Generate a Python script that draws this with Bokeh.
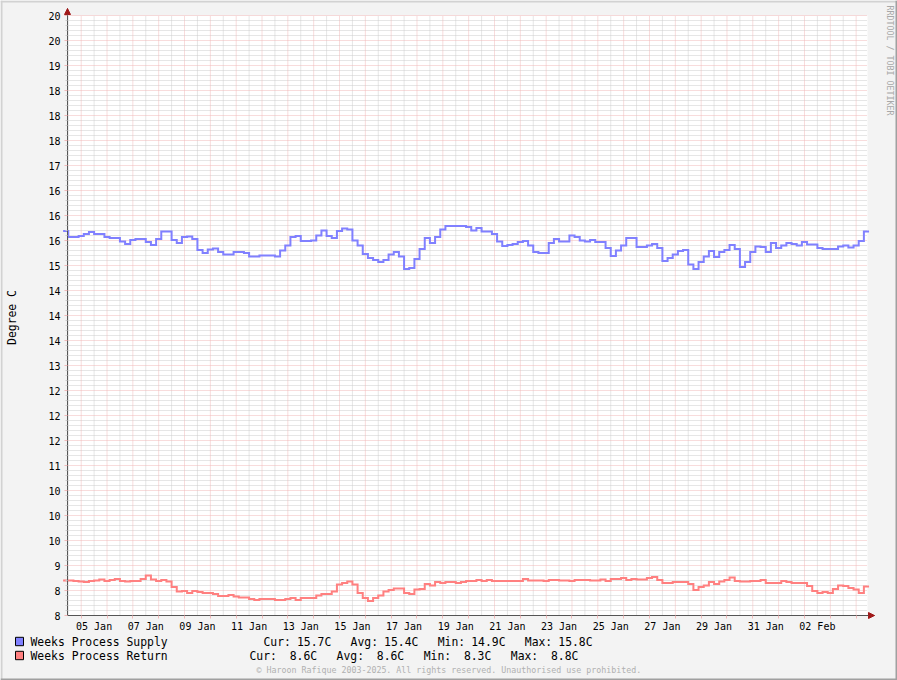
import re
import numpy as np
from bokeh.plotting import figure
from bokeh.models import FixedTicker, Label, Arrow, NormalHead, Range1d, BoxAnnotation
from bokeh.embed import file_html
from bokeh.resources import INLINE

# ---------------- data ----------------
# sample times are expressed as "day of January 2025" (02 Feb = day 33)
first_sample_day = 3.8       # first (partially visible) consolidated sample
sample_step_days = 0.2       # one consolidated sample every 4.8 hours
view_start_day = 3.97
view_end_day = 34.94
y_min, y_max = 8.0, 20.0

supply_name = "Weeks Process Supply"
supply = [
    15.69,
    15.57, 15.57, 15.59, 15.63, 15.67,   # 04 Jan
    15.63, 15.63, 15.57, 15.55, 15.55,   # 05 Jan
    15.48, 15.43, 15.51, 15.53, 15.53,   # 06 Jan
    15.47, 15.41, 15.53, 15.68, 15.68,   # 07 Jan
    15.51, 15.45, 15.57, 15.58, 15.53,   # 08 Jan
    15.31, 15.25, 15.32, 15.34, 15.27,   # 09 Jan
    15.22, 15.22, 15.27, 15.27, 15.25,   # 10 Jan
    15.18, 15.18, 15.20, 15.20, 15.20,   # 11 Jan
    15.18, 15.30, 15.40, 15.57, 15.59,   # 12 Jan
    15.49, 15.49, 15.50, 15.60, 15.70,   # 13 Jan
    15.59, 15.55, 15.69, 15.74, 15.72,   # 14 Jan
    15.50, 15.40, 15.23, 15.15, 15.11,   # 15 Jan
    15.07, 15.11, 15.22, 15.27, 15.18,   # 16 Jan
    14.93, 14.95, 15.13, 15.33, 15.55,   # 17 Jan
    15.45, 15.57, 15.72, 15.79, 15.79,   # 18 Jan
    15.79, 15.79, 15.77, 15.70, 15.75,   # 19 Jan
    15.68, 15.68, 15.63, 15.48, 15.39,   # 20 Jan
    15.41, 15.43, 15.47, 15.49, 15.40,   # 21 Jan
    15.27, 15.25, 15.25, 15.45, 15.53,   # 22 Jan
    15.48, 15.48, 15.60, 15.57, 15.50,   # 23 Jan
    15.48, 15.51, 15.47, 15.47, 15.35,   # 24 Jan
    15.19, 15.30, 15.40, 15.55, 15.55,   # 25 Jan
    15.37, 15.37, 15.40, 15.43, 15.35,   # 26 Jan
    15.09, 15.15, 15.22, 15.29, 15.31,   # 27 Jan
    15.02, 14.93, 15.07, 15.18, 15.29,   # 28 Jan
    15.17, 15.27, 15.31, 15.41, 15.33,   # 29 Jan
    14.97, 15.07, 15.27, 15.38, 15.37,   # 30 Jan
    15.27, 15.45, 15.35, 15.40, 15.45,   # 31 Jan
    15.43, 15.40, 15.47, 15.42, 15.42,   # 01 Feb
    15.35, 15.33, 15.33, 15.33, 15.38,   # 02 Feb
    15.40, 15.36, 15.40, 15.49, 15.68,   # 03 Feb
]

return_name = "Weeks Process Return"
ret = [
    8.70,
    8.70, 8.69, 8.68, 8.67, 8.69,   # 04 Jan
    8.70, 8.72, 8.69, 8.71, 8.73,   # 05 Jan
    8.69, 8.68, 8.69, 8.69, 8.73,   # 06 Jan
    8.80, 8.72, 8.69, 8.71, 8.68,   # 07 Jan
    8.57, 8.48, 8.49, 8.45, 8.49,   # 08 Jan
    8.47, 8.45, 8.45, 8.43, 8.39,   # 09 Jan
    8.39, 8.41, 8.38, 8.36, 8.36,   # 10 Jan
    8.33, 8.31, 8.33, 8.33, 8.33,   # 11 Jan
    8.31, 8.31, 8.33, 8.35, 8.31,   # 12 Jan
    8.35, 8.35, 8.35, 8.40, 8.43,   # 13 Jan
    8.43, 8.48, 8.62, 8.65, 8.68,   # 14 Jan
    8.62, 8.45, 8.35, 8.29, 8.35,   # 15 Jan
    8.40, 8.48, 8.51, 8.54, 8.54,   # 16 Jan
    8.45, 8.43, 8.52, 8.53, 8.63,   # 17 Jan
    8.60, 8.67, 8.65, 8.67, 8.67,   # 18 Jan
    8.65, 8.67, 8.69, 8.69, 8.71,   # 19 Jan
    8.69, 8.71, 8.69, 8.69, 8.69,   # 20 Jan
    8.69, 8.69, 8.69, 8.73, 8.70,   # 21 Jan
    8.70, 8.70, 8.69, 8.71, 8.71,   # 22 Jan
    8.70, 8.70, 8.69, 8.71, 8.71,   # 23 Jan
    8.71, 8.70, 8.70, 8.72, 8.69,   # 24 Jan
    8.73, 8.73, 8.75, 8.71, 8.73,   # 25 Jan
    8.72, 8.72, 8.75, 8.77, 8.71,   # 26 Jan
    8.65, 8.65, 8.67, 8.67, 8.67,   # 27 Jan
    8.63, 8.51, 8.57, 8.60, 8.67,   # 28 Jan
    8.63, 8.68, 8.71, 8.76, 8.69,   # 29 Jan
    8.68, 8.68, 8.69, 8.69, 8.71,   # 30 Jan
    8.65, 8.65, 8.65, 8.69, 8.67,   # 31 Jan
    8.65, 8.65, 8.65, 8.59, 8.49,   # 01 Feb
    8.45, 8.47, 8.45, 8.53, 8.60,   # 02 Feb
    8.59, 8.55, 8.52, 8.45, 8.58,   # 03 Feb
]

supply_stats = "Cur: 15.7C   Avg: 15.4C   Min: 14.9C   Max: 15.8C"
return_stats = "Cur:  8.6C   Avg:  8.6C   Min:  8.3C   Max:  8.8C"

y_ticks = [8.0, 8.5, 9.0, 9.5, 10.0, 10.5, 11.0, 11.5, 12.0, 12.5, 13.0, 13.5, 14.0,
           14.5, 15.0, 15.5, 16.0, 16.5, 17.0, 17.5, 18.0, 18.5, 19.0, 19.5, 20.0]
y_tick_labels = ["8", "8", "9", "10", "10", "10", "11", "12", "12", "12", "13", "14", "14",
                 "14", "15", "16", "16", "16", "17", "18", "18", "18", "19", "20", "20"]
x_ticks = [5, 7, 9, 11, 13, 15, 17, 19, 21, 23, 25, 27, 29, 31, 33]
x_tick_labels = ["05 Jan", "07 Jan", "09 Jan", "11 Jan", "13 Jan", "15 Jan", "17 Jan",
                 "19 Jan", "21 Jan", "23 Jan", "25 Jan", "27 Jan", "29 Jan", "31 Jan", "02 Feb"]
y_label = "Degree C"
copyright_text = "\u00a9 Haroon Rafique 2003-2025. All rights reserved. Unauthorised use prohibited."
side_text = "RRDTOOL / TOBI OETIKER"

# ---------------- style / layout ----------------
FONT = "DejaVu Sans Mono"
SUPPLY_COLOR = "#8080FF"
RETURN_COLOR = "#FF8080"
AXIS_COLOR = "#555555"
ARROW_COLOR = "#A01818"
MGRID_COLOR = "#F0B8B8"
GRID_COLOR = "#CCCCCC"
BG = "#F3F3F3"
SHADE_A = "#D2D2D2"
SHADE_B = "#A0A0A0"

W, H = 897, 680
CANVAS_L, CANVAS_T, CANVAS_R, CANVAS_B = 67, 15, 867, 615

px_per_day = (CANVAS_R - CANVAS_L) / (view_end_day - view_start_day)
px_per_unit = (CANVAS_B - CANVAS_T) / (y_max - y_min)
x_lo = view_start_day - CANVAS_L / px_per_day
x_hi = view_start_day + (W - CANVAS_L) / px_per_day
y_lo = y_min - (H - CANVAS_B) / px_per_unit
y_hi = y_max + CANVAS_T / px_per_unit

p = figure(width=W, height=H, x_range=Range1d(x_lo, x_hi), y_range=Range1d(y_lo, y_hi),
           output_backend="svg", toolbar_location=None, min_border=0,
           background_fill_color=BG, border_fill_color=BG, outline_line_color=None)
p.xgrid.visible = False
p.ygrid.visible = False

# white canvas
p.quad(left=[view_start_day], right=[view_end_day], bottom=[y_min], top=[y_max],
       fill_color="white", line_color=None, level="underlay")

# grid lines (dotted, rrdtool style)
y_minor = [round(y_min + 0.1 * i, 1) for i in range(int(round((y_max - y_min) * 10)) + 1) if i % 5]
day_lines = list(range(4, 35))
half_day_lines = [d + 0.5 for d in range(4, 35)]

p.segment(x0=[view_start_day] * len(y_minor), x1=[view_end_day] * len(y_minor), y0=y_minor, y1=y_minor,
          line_color=GRID_COLOR, line_dash="1 1", line_width=1, level="underlay")
p.segment(x0=day_lines, x1=day_lines, y0=[y_min] * len(day_lines), y1=[y_max] * len(day_lines),
          line_color=GRID_COLOR, line_dash="1 1", line_width=1, level="underlay")
p.segment(x0=[view_start_day] * len(y_ticks), x1=[view_end_day] * len(y_ticks), y0=y_ticks, y1=y_ticks,
          line_color=MGRID_COLOR, line_dash="1 1", line_width=1, level="underlay")
p.segment(x0=half_day_lines, x1=half_day_lines, y0=[y_min] * len(half_day_lines), y1=[y_max] * len(half_day_lines),
          line_color=MGRID_COLOR, line_dash="1 1", line_width=1, level="underlay")

# axes, pinned to the canvas edges
x_arrow_end = view_end_day + 7 / px_per_day
y_arrow_end = y_max + 7 / px_per_unit

xa = p.xaxis[0]
xa.fixed_location = y_min
xa.ticker = FixedTicker(ticks=x_ticks, minor_ticks=half_day_lines)
xa.major_label_overrides = dict(zip(x_ticks, x_tick_labels))
xa.bounds = (view_start_day, x_arrow_end)
xa.axis_line_color = AXIS_COLOR
xa.major_tick_out = 0
xa.major_tick_in = 0
xa.minor_tick_out = 3
xa.minor_tick_in = 0
xa.minor_tick_line_color = MGRID_COLOR
xa.major_label_standoff = 2
xa.major_label_text_font = FONT
xa.major_label_text_font_size = "10px"
xa.major_label_text_color = "black"

ya = p.yaxis[0]
ya.fixed_location = view_start_day
ya.ticker = FixedTicker(ticks=y_ticks, minor_ticks=y_minor)
ya.major_label_overrides = dict(zip(y_ticks, y_tick_labels))
ya.bounds = (y_min, y_arrow_end)
ya.axis_line_color = AXIS_COLOR
ya.major_tick_out = 3
ya.major_tick_in = 0
ya.major_tick_line_color = MGRID_COLOR
ya.minor_tick_out = 2
ya.minor_tick_in = 0
ya.minor_tick_line_color = GRID_COLOR
ya.major_label_standoff = 4
ya.major_label_text_font = FONT
ya.major_label_text_font_size = "10px"
ya.major_label_text_color = "black"

# series (step lines)
def step_xy(values):
    xs = [first_sample_day + sample_step_days * i for i in range(len(values) + 1)]
    ys = list(values) + [values[-1]]
    return xs, ys

for vals, col in ((supply, SUPPLY_COLOR), (ret, RETURN_COLOR)):
    xs, ys = step_xy(vals)
    p.step(xs, ys, mode="after", line_color=col, line_width=2, line_join="miter")

# axis arrows
p.add_layout(Arrow(end=NormalHead(size=6, fill_color=ARROW_COLOR, line_color=ARROW_COLOR, line_width=1),
                   x_start=view_start_day, y_start=y_max, x_end=view_start_day, y_end=y_arrow_end,
                   line_color=AXIS_COLOR, line_width=1))
p.add_layout(Arrow(end=NormalHead(size=6, fill_color=ARROW_COLOR, line_color=ARROW_COLOR, line_width=1),
                   x_start=view_end_day, y_start=y_min, x_end=x_arrow_end, y_end=y_min,
                   line_color=AXIS_COLOR, line_width=1))

# ---------------- texts and legend (pixel positions, y from top) ----------------
def text(t, x, y, size, color="black", align="left", baseline="alphabetic", angle=0.0):
    p.add_layout(Label(x=x, y=H - y, x_units="screen", y_units="screen", text=t,
                       text_font=FONT, text_font_size=size, text_color=color,
                       text_align=align, text_baseline=baseline, angle=angle))

def box(x0, y0, x1, y1, color, line=None):
    p.add_layout(BoxAnnotation(left=x0, right=x1, top=H - y0, bottom=H - y1,
                               left_units="screen", right_units="screen",
                               top_units="screen", bottom_units="screen",
                               fill_color=color, fill_alpha=1.0,
                               line_color=line, line_width=1, line_alpha=1.0 if line else 0.0))

text(y_label, 11, 317, "11.4px", align="center", baseline="middle", angle=np.pi / 2)
text(side_text, 889, 5, "8.3px", color="#A8A8A8", align="left", baseline="middle", angle=-np.pi / 2)

LEG_SIZE = "11.4px"
STATS_ADV = 6.70

def legend_row(name, stats, color, center_y, stats_x):
    box(15, center_y - 4.2, 23, center_y + 4.2, color, line="black")
    text(name, 30, center_y, LEG_SIZE, baseline="middle")
    for m in re.finditer(r"\S+", stats):
        text(m.group(0), stats_x + m.start() * STATS_ADV, center_y, LEG_SIZE, baseline="middle")

legend_row(supply_name, supply_stats, SUPPLY_COLOR, 641, 263)
legend_row(return_name, return_stats, RETURN_COLOR, 655, 249)
text(copyright_text, 256, 669, "8.3px", color="#B0B0B0", baseline="middle")

# image frame shading
box(0, 0, W, 2, SHADE_A)
box(0, 0, 2, H, SHADE_A)
box(0, H - 2, W, H, SHADE_B)
box(W - 2, 0, W, H, SHADE_B)

open("out.html", "w").write(file_html(p, INLINE))
